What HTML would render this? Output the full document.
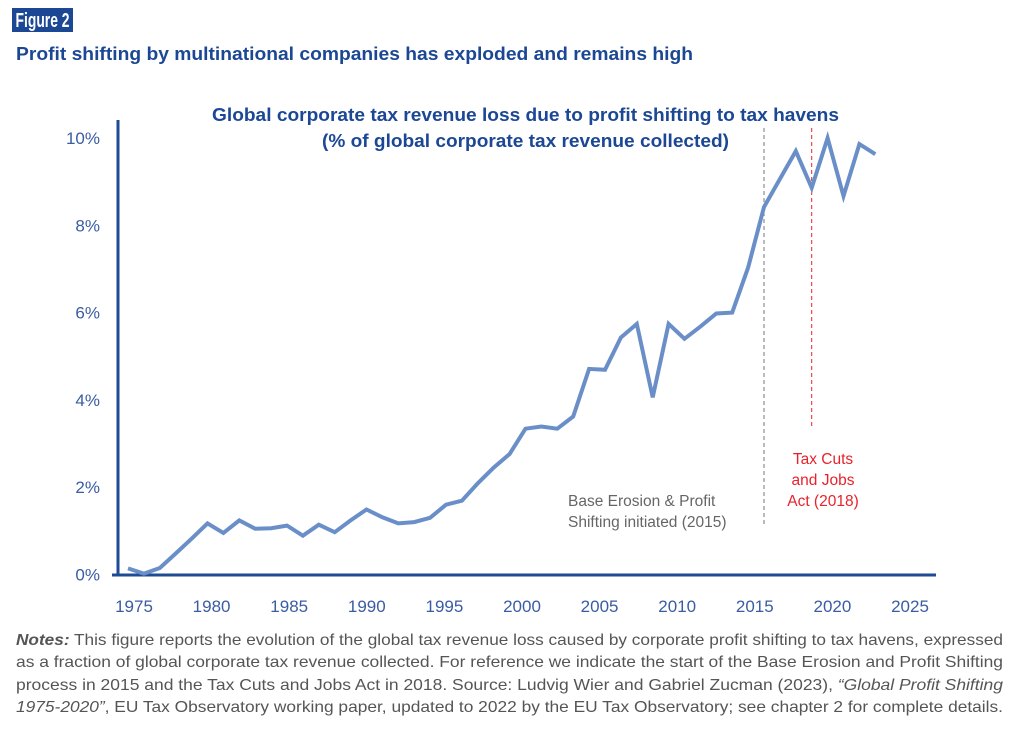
<!DOCTYPE html>
<html><head><meta charset="utf-8"><style>
html,body{margin:0;padding:0;background:#fff;}
svg{display:block;font-family:"Liberation Sans",sans-serif;}
</style></head><body>
<svg id="chart" width="1033" height="734" viewBox="0 0 1033 734">
  <rect x="12" y="8" width="61" height="24" fill="#1b4795"/>
  <text x="42.5" y="27" text-anchor="middle" fill="#fff" font-weight="bold" font-size="20" textLength="54" lengthAdjust="spacingAndGlyphs">Figure 2</text>
  <text x="16" y="60" fill="#1b4795" font-weight="bold" font-size="18" textLength="677" lengthAdjust="spacingAndGlyphs">Profit shifting by multinational companies has exploded and remains high</text>
  <text x="212" y="121" fill="#1b4795" font-weight="bold" font-size="18" textLength="627" lengthAdjust="spacingAndGlyphs">Global corporate tax revenue loss due to profit shifting to tax havens</text>
  <text x="322" y="147" fill="#1b4795" font-weight="bold" font-size="18" textLength="407" lengthAdjust="spacingAndGlyphs">(% of global corporate tax revenue collected)</text>
  <g id="plot"></g>
  <g fill="#555" font-size="16">
    <text x="16" y="645" textLength="987" lengthAdjust="spacingAndGlyphs"><tspan font-weight="bold" font-style="italic">Notes:</tspan> This figure reports the evolution of the global tax revenue loss caused by corporate profit shifting to tax havens, expressed</text>
    <text x="16" y="667" textLength="987" lengthAdjust="spacingAndGlyphs">as a fraction of global corporate tax revenue collected. For reference we indicate the start of the Base Erosion and Profit Shifting</text>
    <text x="16" y="690" textLength="987" lengthAdjust="spacingAndGlyphs">process in 2015 and the Tax Cuts and Jobs Act in 2018. Source: Ludvig Wier and Gabriel Zucman (2023), <tspan font-style="italic">“Global Profit Shifting</tspan></text>
    <text x="16" y="712" textLength="987" lengthAdjust="spacingAndGlyphs"><tspan font-style="italic">1975-2020”</tspan>, EU Tax Observatory working paper, updated to 2022 by the EU Tax Observatory; see chapter 2 for complete details.</text>
  </g>
</svg>
<script>
const years = [1975,1976,1977,1978,1979,1980,1981,1982,1983,1984,1985,1986,1987,1988,1989,1990,1991,1992,1993,1994,1995,1996,1997,1998,1999,2000,2001,2002,2003,2004,2005,2006,2007,2008,2009,2010,2011,2012,2013,2014,2015,2016,2017,2018,2019,2020,2021,2022];
const lossPct = [0.14,0.02,0.15,0.48,0.82,1.17,0.95,1.24,1.05,1.06,1.12,0.89,1.14,0.97,1.24,1.49,1.31,1.17,1.2,1.3,1.6,1.69,2.09,2.45,2.76,3.34,3.39,3.34,3.62,4.71,4.69,5.43,5.74,4.06,5.74,5.4,5.68,5.98,6.0,7.03,8.42,9.06,9.7,8.86,10.0,8.67,9.86,9.63];
const yTicks = [0,2,4,6,8,10];
const xTicks = [1975,1980,1985,1990,1995,2000,2005,2010,2015,2020,2025];
const markerYears = [2015,2018];

const NS = "http://www.w3.org/2000/svg";
const plot = document.getElementById('plot');
const x = yr => 128 + (yr - 1975) * 15.9;
const xl = yr => 134 + (yr - 1975) * 15.52;
const y = v => 574.5 - v * 43.65;
function mk(tag, attrs, text){
  const e = document.createElementNS(NS, tag);
  for (const k in attrs) e.setAttribute(k, attrs[k]);
  if (text !== undefined) e.textContent = text;
  plot.appendChild(e);
  return e;
}
yTicks.forEach(t => {
  const e = mk('text', {x: 100, y: y(t) + 6, 'text-anchor': 'end', fill: '#3a5ca3', 'font-size': 17}, t + '%');
  
  
});
xTicks.forEach(t => {
  const e = mk('text', {x: xl(t), y: 612, 'text-anchor': 'middle', fill: '#3a5ca3', 'font-size': 17}, String(t));
  
  
});
const ml1 = mk('line', {x1: x(markerYears[0]), x2: x(markerYears[0]), y1: 128, y2: 524, stroke: '#777', 'stroke-width': 1, 'stroke-dasharray': '4,3'});


const ml2 = mk('line', {x1: x(markerYears[1]), x2: x(markerYears[1]), y1: 128, y2: 428, stroke: '#e8222c', 'stroke-width': 1, 'stroke-dasharray': '4,3'});


const a1 = mk('text', {x: 568, y: 506, fill: '#666', 'font-size': 15.5}, 'Base Erosion & Profit');


const a2 = mk('text', {x: 568, y: 527, fill: '#666', 'font-size': 15.5}, 'Shifting initiated (2015)');


['Tax Cuts','and Jobs','Act (2018)'].forEach((s, i) => {
  const t = mk('text', {x: 823, y: 464 + i * 21, 'text-anchor': 'middle', fill: '#e8222c', 'font-size': 15.5}, s);
  
  
});
const ya = mk('line', {x1: 118, x2: 118, y1: 120, y2: 576, stroke: '#1f4a94', 'stroke-width': 3});


const xa = mk('line', {x1: 112, x2: 936, y1: 575, y2: 575, stroke: '#1f4a94', 'stroke-width': 3});


const d = years.map((yr, i) => (i ? 'L' : 'M') + x(yr).toFixed(1) + ',' + y(lossPct[i]).toFixed(1)).join(' ');
const line = mk('path', {d: d, fill: 'none', stroke: '#6a8fc8', 'stroke-width': 4, 'stroke-linejoin': 'miter'});


</script>
</body></html>
